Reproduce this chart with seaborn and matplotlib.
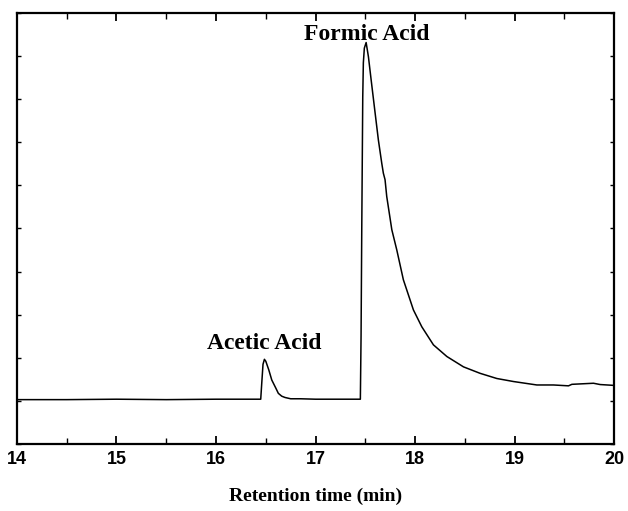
import matplotlib
matplotlib.use("Agg")
import matplotlib.pyplot as plt
import seaborn as sns
import pandas as pd
from matplotlib.ticker import MultipleLocator, NullFormatter

# Retention time (min) and detector signal (arbitrary units)
time = [14.0, 14.5, 15.0, 15.5, 16.0, 16.3, 16.449, 16.459, 16.472, 16.486, 16.50, 16.53,
        16.56, 16.60, 16.626, 16.66, 16.693, 16.75, 16.85, 17.0, 17.2, 17.45, 17.457,
        17.464, 17.474, 17.48, 17.49, 17.508, 17.531, 17.558, 17.598, 17.631, 17.665,
        17.681, 17.698, 17.715, 17.766, 17.816, 17.882, 17.983, 18.067, 18.184, 18.319,
        18.486, 18.653, 18.821, 18.988, 19.223, 19.390, 19.541, 19.575, 19.792, 19.859,
        20.0]
signal = [1.03, 1.03, 1.04, 1.03, 1.04, 1.04, 1.04, 1.40, 1.85, 1.965, 1.92, 1.72,
          1.485, 1.30, 1.176, 1.11, 1.08, 1.05, 1.05, 1.04, 1.04, 1.04, 2.5,
          4.97, 8.05, 8.84, 9.18, 9.31, 8.98, 8.45, 7.68, 7.05, 6.51,
          6.28, 6.13, 5.74, 4.97, 4.50, 3.81, 3.11, 2.72, 2.30, 2.03,
          1.79, 1.64, 1.52, 1.45, 1.37, 1.37, 1.35, 1.385, 1.41, 1.38,
          1.36]

peak_names = ["Acetic Acid", "Formic Acid"]
peak_pos = [(16.48, 2.2), (17.51, 9.37)]

df = pd.DataFrame({"time": time, "signal": signal})

sns.set_style("ticks")
fig = plt.figure(figsize=(6.28, 5.11), dpi=100)
ax = fig.add_axes([0.027, 0.131, 0.951, 0.844])

sns.lineplot(data=df, x="time", y="signal", ax=ax, color="black", linewidth=1.1,
             estimator=None, sort=False)

ax.set_xlim(14, 20)
ax.set_ylim(0, 10)
ax.xaxis.set_major_locator(MultipleLocator(1))
ax.xaxis.set_minor_locator(MultipleLocator(0.5))
ax.yaxis.set_major_locator(MultipleLocator(1))
ax.yaxis.set_major_formatter(NullFormatter())
ax.tick_params(axis="x", which="major", direction="in", length=6, width=1.3,
               top=True, bottom=True, pad=5, colors="black")
ax.tick_params(axis="x", which="minor", direction="in", length=4, width=1.0,
               top=True, bottom=True, colors="black")
ax.tick_params(axis="y", which="major", direction="in", length=3, width=1.0,
               left=True, right=True, colors="black")
for s in ax.spines.values():
    s.set_visible(True)
    s.set_linewidth(1.6)
    s.set_color("black")

for lab in ax.get_xticklabels():
    lab.set_fontfamily("Liberation Sans")
    lab.set_fontweight("bold")
    lab.set_fontsize(13)
    lab.set_color("black")

ax.set_ylabel("")
ax.set_xlabel("Retention time (min)", fontfamily="Liberation Serif",
              fontweight="bold", fontsize=14, labelpad=14, color="black")

for name, (px, py) in zip(peak_names, peak_pos):
    ax.text(px, py, name, ha="center", va="baseline", fontfamily="Liberation Serif",
            fontweight="bold", fontsize=17, color="black")

fig.savefig("out.png", dpi=100)
